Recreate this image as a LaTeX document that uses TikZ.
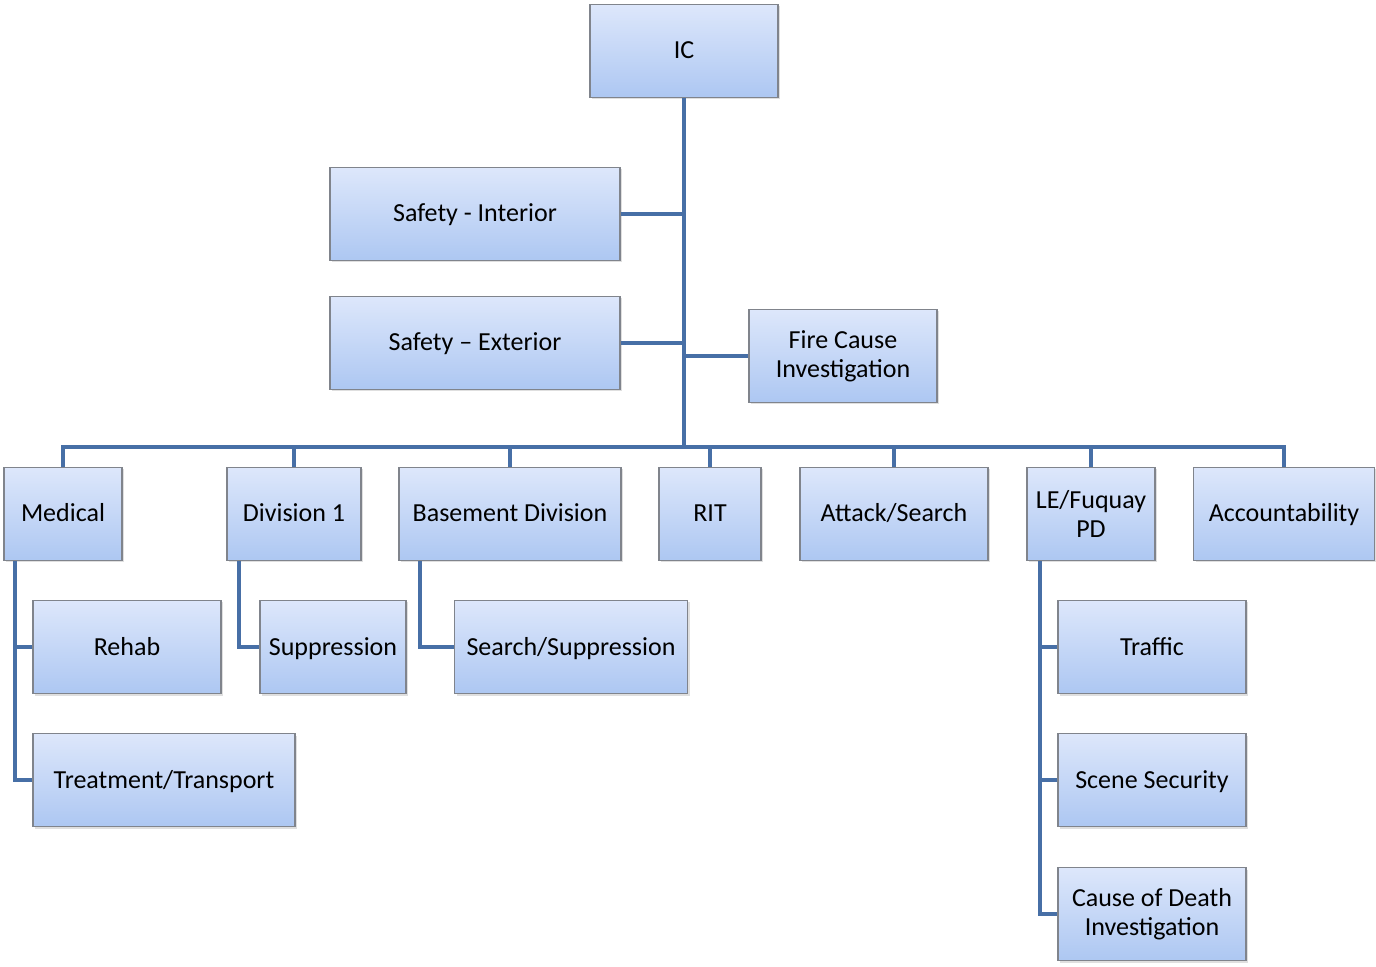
\documentclass[tikz,border=0pt]{standalone}
\usepackage{fontspec}
\setmainfont{Carlito}
\usetikzlibrary{shadows}

\definecolor{linkblue}{HTML}{476FA6}
\definecolor{boxtop}{HTML}{DDE7FB}
\definecolor{boxbot}{HTML}{ADC7F2}
\definecolor{boxline}{HTML}{80848C}

\tikzset{
  unit/.style={draw=boxline, line width=0.6pt, top color=boxtop, bottom color=boxbot,
    minimum height=46.5pt, align=center, inner sep=2pt,
    font=\fontsize{13}{14.5}\selectfont,
    drop shadow={shadow xshift=1pt, shadow yshift=-1pt, opacity=0.25}},
  oneline/.style={unit, text height=1em, text depth=0.2em},
  link/.style={draw=linkblue, line width=2pt}
}

\begin{document}
\begin{tikzpicture}[x=0.5pt, y=-0.5pt]
  \useasboundingbox (0,0) rectangle (1376,967);

  % command and staff
  \node[oneline, minimum width=94pt] (ic) at (684,51) {IC};
  \node[oneline, minimum width=145pt] (safin) at (475,214) {Safety - Interior};
  \node[oneline, minimum width=145pt] (safex) at (475,343) {Safety – Exterior};
  \node[unit, minimum width=94pt] (fire) at (843,356) {Fire Cause\\Investigation};
  \coordinate (bus) at (684,447);

  % second row
  \node[oneline, minimum width=59pt] (med) at (63,514) {Medical};
  \node[oneline, minimum width=67pt] (div) at (294,514) {Division 1};
  \node[oneline, minimum width=111pt] (base) at (510,514) {Basement Division};
  \node[oneline, minimum width=51pt] (rit) at (710,514) {RIT};
  \node[oneline, minimum width=94pt] (attack) at (894,514) {Attack/Search};
  \node[unit, minimum width=64pt] (lepd) at (1091,514) {LE/Fuquay\\PD};
  \node[oneline, minimum width=90.5pt] (acct) at (1284,514) {Accountability};

  % third level
  \node[oneline, minimum width=94pt] (rehab) at (127,647) {Rehab};
  \node[oneline, minimum width=131pt] (treat) at (164,780) {Treatment/Transport};
  \node[oneline, minimum width=73pt] (supp) at (333,647) {Suppression};
  \node[oneline, minimum width=116.5pt] (search) at (571,647) {Search/Suppression};
  \node[oneline, minimum width=94pt] (traffic) at (1152,647) {Traffic};
  \node[oneline, minimum width=94pt] (scene) at (1152,780) {Scene Security};
  \node[unit, minimum width=94pt] (death) at (1152,914) {Cause of Death\\Investigation};

  % connectors
  \draw[link] (ic.south) -- (bus);
  \draw[link] (safin.east) -- (safin.east -| bus);
  \draw[link] (safex.east) -- (safex.east -| bus);
  \draw[link] (fire.west) -- (fire.west -| bus);
  \draw[link] (med.north) |- (bus) -| (acct.north);
  \foreach \n in {div,base,rit,attack,lepd}
    \draw[link] (\n.north) -- (\n.north |- bus);

  \coordinate (medtrunk) at ([xshift=6pt]med.south west);
  \draw[link] (medtrunk) |- (treat.west);
  \draw[link] (rehab.west) -- (rehab.west -| medtrunk);
  \draw[link] ([xshift=6.5pt]div.south west) |- (supp.west);
  \draw[link] ([xshift=11pt]base.south west) |- (search.west);
  \coordinate (letrunk) at ([xshift=7pt]lepd.south west);
  \draw[link] (letrunk) |- (death.west);
  \draw[link] (traffic.west) -- (traffic.west -| letrunk);
  \draw[link] (scene.west) -- (scene.west -| letrunk);
\end{tikzpicture}
\end{document}
